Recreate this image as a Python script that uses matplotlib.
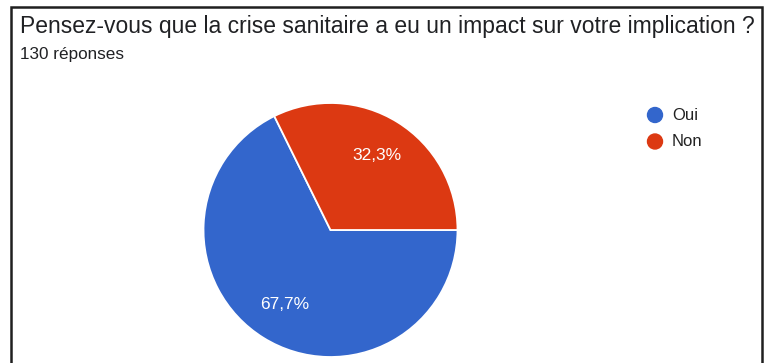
import matplotlib
matplotlib.use("Agg")
import numpy as np
import matplotlib.pyplot as plt
from matplotlib.patches import Ellipse

plt.rcParams['font.family'] = ['Liberation Sans', 'DejaVu Sans']

title = "Pensez-vous que la crise sanitaire a eu un impact sur votre implication ?"
subtitle = "130 réponses"
categories = ["Oui", "Non"]
percentages = [67.7, 32.3]
colors = ["#3366CC", "#DC3912"]

W, H = 765, 363
fig = plt.figure(figsize=(W / 100, H / 100), dpi=100)
fig.patch.set_facecolor("white")


def px(x, y):
    """pixel position (from top-left) to figure fraction"""
    return x / W, 1 - y / H


# frame around the card (open at the bottom)
frame_x = [10.5, 10.5, 762, 762]
frame_y = [H + 5, 6.5, 6.5, H + 5]
fig.add_artist(plt.Line2D([x / W for x in frame_x], [1 - y / H for y in frame_y],
                          color="#1f1f1f", lw=1.8, transform=fig.transFigure,
                          solid_joinstyle="miter"))

fig.text(*px(20, 33), title, fontsize=16.45, color="#202124", ha="left", va="baseline")
fig.text(*px(20, 59), subtitle, fontsize=12.3, color="#202124", ha="left", va="baseline")

# pie
cx, cy, r = 330.5, 230, 127
ax = fig.add_axes([(cx - r) / W, (H - cy - r) / H, 2 * r / W, 2 * r / H])
wedges, texts = ax.pie(percentages, colors=colors, startangle=0, counterclock=False,
                       radius=1, wedgeprops=dict(edgecolor="white", linewidth=1.3))
for w, p in zip(wedges, percentages):
    ang = np.deg2rad((w.theta1 + w.theta2) / 2)
    ax.text(0.69 * np.cos(ang), 0.69 * np.sin(ang), f"{p:.1f}%".replace(".", ","),
            ha="center", va="center", color="white", fontsize=12.5)
ax.set_xlim(-1, 1)
ax.set_ylim(-1, 1)
ax.set_aspect("auto")
ax.axis("off")

# legend
for i, (lab, col) in enumerate(zip(categories, colors)):
    y = 115 + i * 26.5
    fig.add_artist(Ellipse(px(655, y), 15 / W, 15 / H, color=col, transform=fig.transFigure))
    fig.text(*px(672, y), lab, fontsize=12, color="#222222", ha="left", va="center")

fig.savefig("out.png", dpi=100, facecolor="white")
